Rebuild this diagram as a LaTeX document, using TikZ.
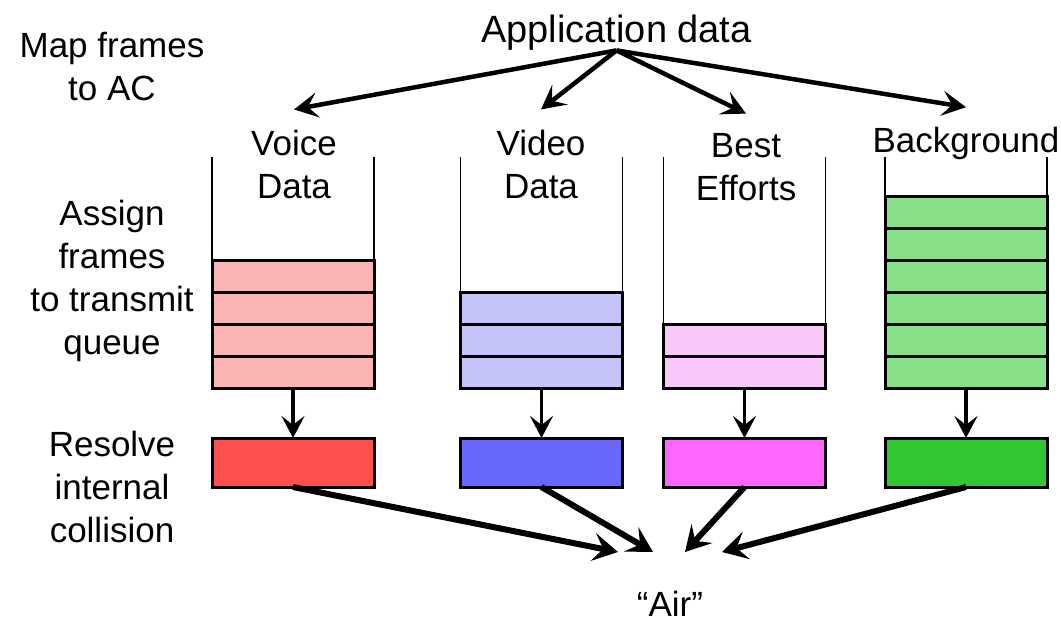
\documentclass[tikz,border=0pt]{standalone}
\usepackage{fontspec}
\setmainfont{Liberation Sans}
\usetikzlibrary{positioning,arrows.meta}
\tikzset{>=Stealth}
\definecolor{voiceQ}{RGB}{250,180,180}
\definecolor{videoQ}{RGB}{196,196,248}
\definecolor{bestQ}{RGB}{250,200,248}
\definecolor{bgQ}{RGB}{136,224,136}
\definecolor{voiceR}{RGB}{255,80,80}
\definecolor{videoR}{RGB}{104,104,255}
\definecolor{bestR}{RGB}{255,102,255}
\definecolor{bgR}{RGB}{51,198,51}

\begin{document}
\begin{tikzpicture}[
  x=1pt, y=-1pt,
  every node/.style={font=\fontsize{35}{43}\selectfont}
]

% Styles.
\tikzset{
  lbl/.style={align=center, inner sep=0pt},
  acname/.style={lbl, inner ysep=20pt},
  frame/.style={rectangle, draw, line width=3pt, minimum width=162pt, minimum height=32pt, inner sep=0pt, outer sep=0pt},
  resolve/.style={frame, minimum height=49pt},
  wall/.style={line width=1.5pt},
  feed/.style={-{Stealth[length=24pt,width=25pt,inset=10pt]}, line width=4.5pt},
  drop/.style={-{Stealth[length=22pt,width=23pt,inset=9pt]}, line width=3.5pt},
  merge/.style={-{Stealth[length=25pt,width=28pt,inset=10pt]}, line width=6pt}
}

\useasboundingbox (0,0) rectangle (1061,624);

% Top.
\node (app) [lbl, font=\fontsize{38}{44}\selectfont] at (616.5,32.5) {Application data};

% Steps on the left.
\node (smap)     [lbl] at (112,66.5) {Map frames\\to AC};
\node (sassign)  [lbl] at (112,281)  {Assign\\frames\\to transmit\\queue};
\node (sresolve) [lbl] at (112,486.5) {Resolve\\internal\\collision};

% Access categories.
\node (lvoice) [acname] at (294,164)   {Voice\\Data};
\node (lvideo) [acname] at (541,164)   {Video\\Data};
\node (lbest)  [acname] at (746,167.5) {Best\\Efforts};
\node (lbg)    [acname] at (966,143.7) {Background};

\foreach \q in {voice, video, best, bg}{
  \draw[feed] (app.south) -- (l\q.north);
}

% Transmit queues.
\foreach \q/\x/\n in {voice/293/4, video/541.5/3, best/744.5/2, bg/966/6}{
  \foreach \i in {1,...,\n}{
    \node (\q\i) [frame, fill=\q Q] at (\x,404-32*\i) {};
  }
  \draw[wall] (\q\n.north west) -- (\q\n.north west |- 0,157);
  \draw[wall] (\q\n.north east) -- (\q\n.north east |- 0,157);
}

% Internal collision.
\foreach \q in {voice, video, best, bg}{
  \node (r\q) [resolve, fill=\q R, below=50pt of \q1] {};
  \draw[drop] (\q1) -- (r\q);
}

% Air.
\node (air) [lbl] at (670,604) {“Air”};

\foreach \q/\dx in {voice/-52, video/-17, best/15, bg/52}{
  \draw[merge] (r\q.south) -- ([xshift=\dx pt, yshift=52pt]air.center);
}
\end{tikzpicture}
\end{document}
